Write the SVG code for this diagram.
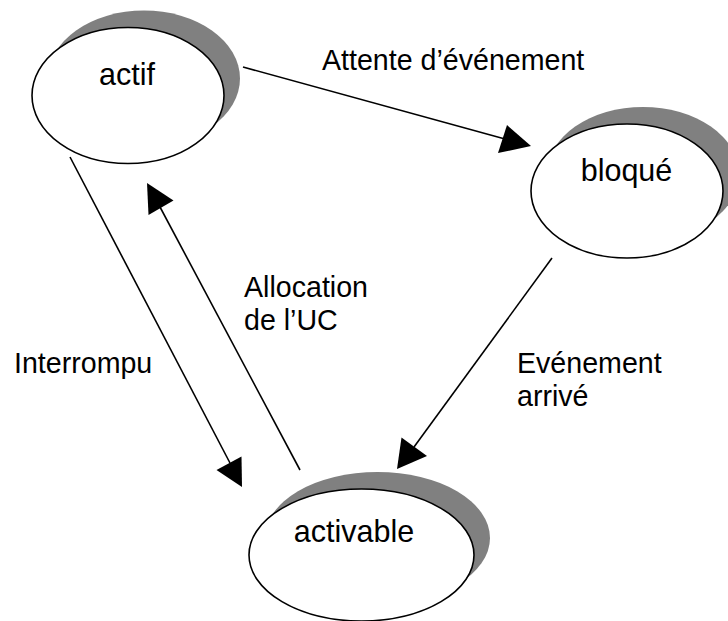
<svg xmlns="http://www.w3.org/2000/svg" width="728" height="621" viewBox="0 0 728 621">
  <style>
    .shadow { fill: #808080; stroke: none; }
    .state { fill: #ffffff; stroke: #000000; stroke-width: 1.6; }
    .node-label { font-family: "Liberation Sans", Arial, sans-serif; font-size: 30.5px; fill: #000000; text-anchor: middle; }
    .edge-label { font-family: "Liberation Sans", Arial, sans-serif; font-size: 28.6px; fill: #000000; }
    .edge { stroke: #000000; stroke-width: 1.6; fill: none; }
    .head { fill: #000000; stroke: none; }
  </style>

  <!-- connectors: straight lines, each ending in a large filled triangle -->
  <g id="connectors">
    <!-- actif -> bloqué -->
    <g id="edge-attente">
      <line class="edge" x1="243" y1="67" x2="505" y2="139"/>
      <polygon class="head" points="531,146 498,153 507,125"/>
      <text class="edge-label" x="322" y="70">Attente d’événement</text>
    </g>
    <!-- actif -> activable -->
    <g id="edge-interrompu">
      <line class="edge" x1="70" y1="157" x2="230" y2="463"/>
      <polygon class="head" points="242,487 216.5,470 241.5,456.5"/>
      <text class="edge-label" x="14" y="373">Interrompu</text>
    </g>
    <!-- activable -> actif -->
    <g id="edge-allocation">
      <line class="edge" x1="300" y1="470" x2="160" y2="207"/>
      <polygon class="head" points="147,183 173.5,200.5 148.5,215"/>
      <text class="edge-label" x="244" y="297">Allocation</text>
      <text class="edge-label" x="244" y="330">de l’UC</text>
    </g>
    <!-- bloqué -> activable -->
    <g id="edge-evenement">
      <line class="edge" x1="552" y1="258" x2="414" y2="447"/>
      <polygon class="head" points="397,469 401.5,437.5 427,456"/>
      <text class="edge-label" x="517" y="373">Evénement</text>
      <text class="edge-label" x="517" y="406">arrivé</text>
    </g>
  </g>

  <!-- states: white ellipse over a grey copy shifted up and right -->
  <g id="actif">
    <ellipse class="shadow" cx="144" cy="78.5" rx="96" ry="68"/>
    <ellipse class="state" cx="128" cy="95.5" rx="96" ry="68"/>
    <text class="node-label" x="127" y="85">actif</text>
  </g>

  <g id="bloque">
    <ellipse class="shadow" cx="643" cy="174" rx="96" ry="67"/>
    <ellipse class="state" cx="627" cy="191" rx="96" ry="67"/>
    <text class="node-label" x="626.5" y="181">bloqué</text>
  </g>

  <g id="activable">
    <ellipse class="shadow" cx="377.5" cy="538" rx="112.5" ry="66"/>
    <ellipse class="state" cx="361.5" cy="555" rx="112.5" ry="66"/>
    <text class="node-label" x="354" y="542">activable</text>
  </g>
</svg>
